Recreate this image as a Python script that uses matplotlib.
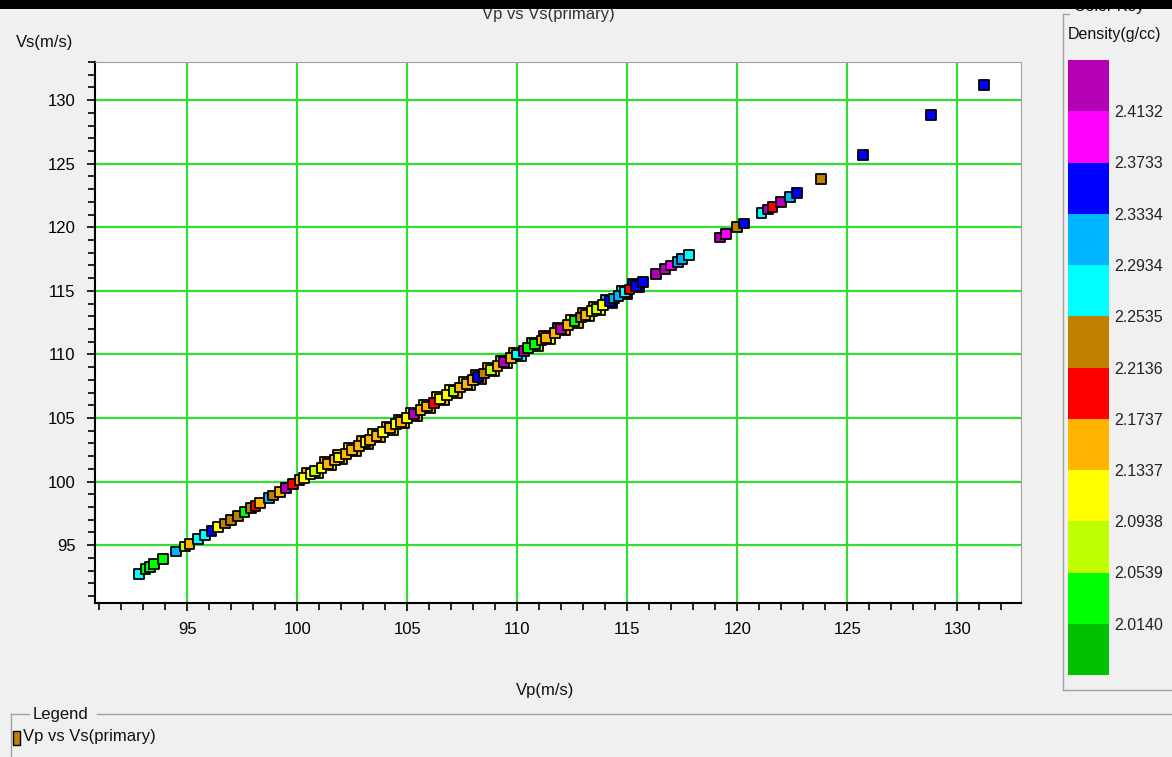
import matplotlib
matplotlib.use('Agg')
import matplotlib.pyplot as plt
import numpy as np
from matplotlib.colors import ListedColormap, BoundaryNorm
from matplotlib.cm import ScalarMappable
from matplotlib.patches import Rectangle
from matplotlib.lines import Line2D
from matplotlib.ticker import MultipleLocator

plt.rcParams['font.family'] = ['Liberation Sans', 'DejaVu Sans']

# colour key
key_colors = ['#00c000', '#00ff00', '#c0ff00', '#ffff00', '#ffb400', '#ff0000',
              '#c08000', '#00ffff', '#00b4ff', '#0000ff', '#ff00ff', '#b400b4']
key_bounds = [1.9741, 2.0140, 2.0539, 2.0938, 2.1337, 2.1737, 2.2136,
              2.2535, 2.2934, 2.3334, 2.3733, 2.4132, 2.4531]

# points (the ones that can be told apart)
vp = [92.8, 93.1, 93.3, 93.5, 93.9, 94.5, 94.9, 95.1, 95.5, 95.8,
      96.1, 96.4, 96.7, 97.0, 97.3, 97.6, 97.9, 98.1, 98.3, 98.7,
      98.9, 99.2, 99.5, 99.8, 100.1, 100.3, 100.6, 100.8, 101.1, 101.4,
      101.7, 101.9, 102.2, 102.5, 102.8, 103.1, 103.3, 103.6, 103.9, 104.2,
      104.5, 104.7, 105.0, 105.3, 105.6, 105.9, 106.2, 106.5, 106.8, 107.1,
      107.4, 107.7, 108.0, 108.2, 108.5, 108.8, 109.1, 109.4, 109.7, 110.0,
      110.3, 110.5, 110.8, 111.1, 111.3, 111.7, 112.0, 112.3, 112.6, 112.9,
      113.1, 113.4, 113.6, 113.9, 114.2, 114.4, 114.6, 114.9, 115.1, 115.4,
      115.7, 116.3, 116.7, 117.0, 117.3, 117.5, 117.8, 119.2, 119.5, 120.0,
      120.3, 121.1, 121.4, 121.6, 122.0, 122.4, 122.7, 123.8, 125.7, 128.8,
      131.2]
vs = [92.7, 93.1, 93.3, 93.5, 93.9, 94.5, 94.9, 95.1, 95.5, 95.8,
      96.1, 96.4, 96.7, 97.0, 97.3, 97.6, 97.9, 98.1, 98.3, 98.7,
      98.9, 99.2, 99.5, 99.8, 100.1, 100.3, 100.6, 100.8, 101.1, 101.4,
      101.7, 101.9, 102.2, 102.5, 102.8, 103.1, 103.3, 103.6, 103.9, 104.2,
      104.5, 104.7, 105.0, 105.3, 105.6, 105.9, 106.2, 106.5, 106.8, 107.1,
      107.4, 107.7, 108.0, 108.2, 108.5, 108.8, 109.1, 109.4, 109.7, 110.0,
      110.3, 110.5, 110.8, 111.1, 111.3, 111.7, 112.0, 112.3, 112.6, 112.9,
      113.1, 113.4, 113.6, 113.9, 114.2, 114.4, 114.6, 114.9, 115.1, 115.4,
      115.7, 116.3, 116.7, 117.0, 117.3, 117.5, 117.8, 119.2, 119.5, 120.0,
      120.3, 121.1, 121.4, 121.6, 122.0, 122.4, 122.7, 123.8, 125.7, 128.8,
      131.2]
density = [2.27, 2.03, 2.03, 2.03, 2.03, 2.31, 2.07, 2.15, 2.27, 2.27,
           2.35, 2.11, 2.23, 2.23, 2.23, 2.03, 2.23, 2.19, 2.15, 2.31,
           2.23, 2.15, 2.43, 2.19, 2.15, 2.11, 2.11, 2.07, 2.11, 2.15,
           2.15, 2.11, 2.15, 2.15, 2.15, 2.11, 2.15, 2.15, 2.11, 2.15,
           2.11, 2.15, 2.11, 2.43, 2.15, 2.15, 2.19, 2.11, 2.11, 2.07,
           2.15, 2.15, 2.15, 2.35, 2.23, 2.07, 2.15, 2.43, 2.15, 2.27,
           2.43, 2.03, 2.03, 2.15, 2.15, 2.15, 2.43, 2.15, 2.03, 2.23,
           2.15, 2.11, 2.07, 2.11, 2.35, 2.31, 2.31, 2.27, 2.19, 2.35,
           2.35, 2.43, 2.43, 2.39, 2.31, 2.31, 2.27, 2.43, 2.39, 2.23,
           2.35, 2.27, 2.43, 2.19, 2.43, 2.31, 2.35, 2.23, 2.35, 2.35,
           2.35]

# points half hidden in the crowded middle part of the trend
vp_dense = [100.45, 100.95, 101.25, 101.55, 101.85, 102.05, 102.35, 102.65, 102.95, 103.2,
            103.45, 103.75, 104.05, 104.35, 104.6, 104.85, 105.15, 105.45, 105.75, 106.05,
            106.35, 106.65, 106.95, 107.25, 107.55, 107.85, 108.1, 108.35, 108.65, 108.95,
            109.25, 109.55, 109.85, 110.15, 110.65, 110.95, 111.2, 111.5, 111.85, 112.15,
            112.45, 112.75, 113.0, 113.25, 113.5, 113.75, 114.05, 114.3, 114.75, 115.0,
            115.25, 115.55]
vs_dense = [100.72, 100.68, 101.52, 101.28, 102.12, 101.78, 102.62, 102.38, 103.22, 102.93,
            103.72, 103.48, 104.32, 104.08, 104.87, 104.58, 105.42, 105.18, 106.02, 105.78,
            106.62, 106.38, 107.22, 106.98, 107.82, 107.58, 108.37, 108.08, 108.92, 108.68,
            109.52, 109.28, 110.12, 109.88, 110.92, 110.68, 111.47, 111.23, 112.12, 111.88,
            112.72, 112.48, 113.27, 112.98, 113.77, 113.48, 114.32, 114.03, 115.02, 114.73,
            115.52, 115.28]
density_dense = [2.15, 2.11, 2.15, 2.11, 2.15, 2.15, 2.11, 2.15, 2.15, 2.23,
                 2.11, 2.15, 2.15, 2.07, 2.15, 2.15, 2.11, 2.15, 2.07, 2.15,
                 2.11, 2.15, 2.11, 2.15, 2.07, 2.11, 2.15, 2.23, 2.15, 2.11,
                 2.15, 2.07, 2.15, 2.27, 2.03, 2.07, 2.15, 2.11, 2.43, 2.15,
                 2.11, 2.15, 2.23, 2.07, 2.15, 2.11, 2.31, 2.35, 2.27, 2.19,
                 2.35, 2.35]

xticks = [95, 100, 105, 110, 115, 120, 125, 130]
yticks = [95, 100, 105, 110, 115, 120, 125, 130]

W, H = 1172, 757
fig = plt.figure(figsize=(W / 100, H / 100), dpi=100, facecolor='#f0f0f0')

def fx(px):
    return px / W

def fy(py):
    return 1 - py / H

cmap = ListedColormap(key_colors)
norm = BoundaryNorm(key_bounds, cmap.N)

ax = fig.add_axes([fx(95), fy(603), fx(1021) - fx(95), fy(62) - fy(603)])
ax.set_facecolor('white')
ax.scatter(vp_dense, vs_dense, c=density_dense, cmap=cmap, norm=norm, marker='s', s=50,
           edgecolors='black', linewidths=1.3, zorder=3)
ax.scatter(vp, vs, c=density, cmap=cmap, norm=norm, marker='s', s=50,
           edgecolors='black', linewidths=1.3, zorder=3)
ax.set_xlim(90.8, 132.9)
ax.set_ylim(90.45, 133.0)
ax.set_xticks(xticks)
ax.set_yticks(yticks)
ax.xaxis.set_minor_locator(MultipleLocator(1))
ax.yaxis.set_minor_locator(MultipleLocator(1))
ax.tick_params(which='both', direction='out', color='black', labelsize=12,
               labelcolor='#000000')
ax.tick_params(which='major', length=6, width=1.2, pad=8)
ax.tick_params(which='minor', length=5, width=1.2)
ax.grid(True, which='major', color='#33dd33', lw=1.6)
ax.set_axisbelow(True)
for s in ['top', 'right']:
    ax.spines[s].set_color('#a0a0a0')
for s in ['left', 'bottom']:
    ax.spines[s].set_color('black')
    ax.spines[s].set_linewidth(1.5)

fig.text(fx(45), fy(42), 'Vs(m/s)', ha='center', va='center', fontsize=12, color='#111111')
fig.text(fx(545), fy(690), 'Vp(m/s)', ha='center', va='center', fontsize=12, color='#111111')
fig.text(fx(548), fy(14), 'Vp vs Vs(primary)', ha='center', va='center', fontsize=12, color='#333333')

# colour key
cax = fig.add_axes([fx(1068), fy(675), fx(1109) - fx(1068), fy(60) - fy(675)])
cb = fig.colorbar(ScalarMappable(norm=norm, cmap=cmap), cax=cax,
                  ticks=key_bounds[1:-1])
cb.outline.set_visible(False)
cax.minorticks_off()
cb.ax.set_yticklabels(['%.4f' % b for b in key_bounds[1:-1]])
cax.tick_params(which='both', length=0, labelsize=11.5, pad=4, labelcolor='#222222')

fig.text(fx(1068), fy(35), 'Density(g/cc)', ha='left', va='center', fontsize=11.5, color='#111111')
fig.text(fx(1074), fy(7), 'Color Key', ha='left', va='center', fontsize=11.5, color='#111111')

box = '#a0a0a0'
fig.add_artist(Line2D([fx(1063), fx(1063)], [fy(14), fy(690)], color=box, lw=1))
fig.add_artist(Line2D([fx(1063), fx(1172)], [fy(690), fy(690)], color=box, lw=1))
fig.add_artist(Line2D([fx(1063), fx(1069)], [fy(14), fy(14)], color=box, lw=1))

# legend box
fig.add_artist(Line2D([fx(11), fx(11)], [fy(714), fy(757)], color=box, lw=1))
fig.add_artist(Line2D([fx(11), fx(29)], [fy(714), fy(714)], color=box, lw=1))
fig.add_artist(Line2D([fx(97), fx(1172)], [fy(714), fy(714)], color=box, lw=1))
fig.text(fx(33), fy(714), 'Legend', ha='left', va='center', fontsize=12, color='#111111')
fig.add_artist(Rectangle((fx(13), fy(745)), fx(7), 14 / H, transform=fig.transFigure,
                         facecolor='#c08000', edgecolor='black', lw=1))
fig.text(fx(23), fy(737), 'Vp vs Vs(primary)', ha='left', va='center', fontsize=12, color='#111111')

# dark strip along the top edge
fig.add_artist(Rectangle((0, fy(9)), 1, 9 / H, transform=fig.transFigure,
                         facecolor='black', edgecolor='none', zorder=10))

fig.savefig('out.png', dpi=100, facecolor=fig.get_facecolor())
